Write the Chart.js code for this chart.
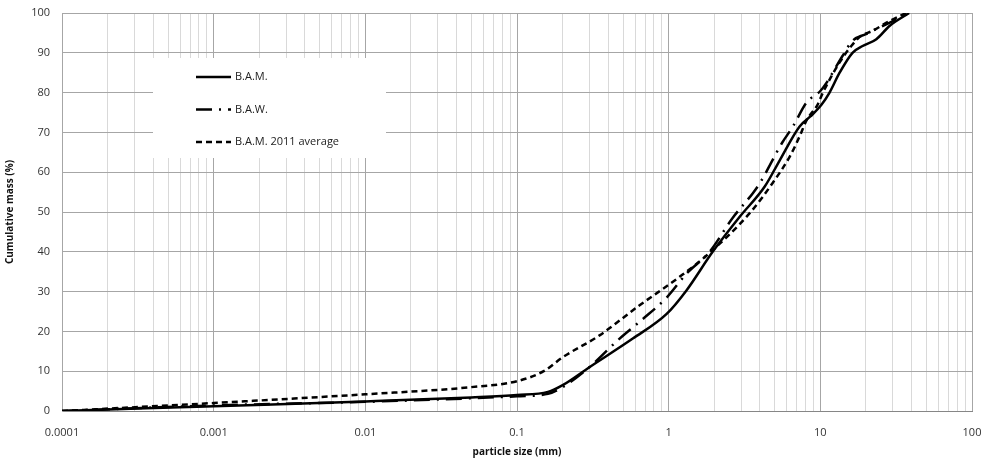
<!DOCTYPE html>
<html>
<head>
<meta charset="utf-8">
<script src="https://cdn.jsdelivr.net/npm/chart.js@4"></script>
<style>
  html, body { margin: 0; padding: 0; background: #fff; }
  #wrap { width: 981px; height: 466px; position: relative; }
</style>
</head>
<body>
<div id="wrap"><canvas id="psd"></canvas></div>
<script>
// grading curves
const SERIES_NAMES = ['B.A.M.', 'B.A.W.', 'B.A.M. 2011 average'];

const BAM_SIZE = [0.0001, 0.001, 0.01, 0.05, 0.1, 0.16, 0.2, 0.3, 0.58, 0.97, 1.31, 1.95, 2.94, 4.3, 5.4, 7.3, 8.6, 10.2, 11.5, 13.4, 16.3, 19, 23.4, 28.7, 38.5];
const BAM_PASS = [0, 1.2, 2.4, 3.4, 4.0, 4.8, 6.5, 11, 18.2, 24.4, 30.3, 40, 48.8, 56.4, 63, 71.5, 74, 77, 80, 85, 90, 91.7, 93.4, 96.8, 100];

const BAW_SIZE = [0.0001, 0.001, 0.01, 0.05, 0.1, 0.16, 0.2, 0.3, 0.475, 0.67, 0.97, 1.31, 1.86, 2.64, 3.6, 4, 5.6, 6.6, 8.1, 10, 11, 14, 16.3, 20, 28.7, 38.5];
const BAW_PASS = [0, 1.4, 2.3, 3.2, 3.7, 4.3, 6, 11, 18.2, 23, 28.5, 34.5, 40, 48.5, 54.8, 57.3, 67.4, 71.5, 77.5, 80.4, 82.5, 89.2, 93, 94.7, 97.6, 100];

const AVG_SIZE = [0.0001, 0.001, 0.01, 0.05, 0.1, 0.15, 0.2, 0.35, 0.64, 1.18, 1.77, 3.42, 4.85, 6.3, 7.3, 8.1, 9.6, 10.4, 13.4, 16, 18.2, 22, 28.7, 36.7];
const AVG_PASS = [0, 2, 4.2, 6, 7.5, 10, 13.5, 19, 26.5, 33.7, 39, 49.7, 57.3, 64, 69, 73, 77, 80, 87.6, 91.7, 94, 95.5, 98, 100];

const X_DECADES = [0.0001, 0.001, 0.01, 0.1, 1, 10, 100];
const X_LABELS  = ['0.0001', '0.001', '0.01', '0.1', '1', '10', '100'];
const Y_TICKS   = [0, 10, 20, 30, 40, 50, 60, 70, 80, 90, 100];

const DASHES = [[], [16, 7, 2, 7], [6, 4]];
const FONT = '"Open Sans", "Liberation Sans", sans-serif';

function pts(xs, ys) {
  return xs.map((x, i) => ({ x, y: ys[i] }));
}

// 1..9 x 10^k between the first and last decade
function logTicks() {
  const out = [];
  for (let d = 0; d < X_DECADES.length - 1; d++) {
    for (let m = 1; m < 10; m++) out.push({ value: X_DECADES[d] * m });
  }
  out.push({ value: X_DECADES[X_DECADES.length - 1] });
  return out;
}

function isDecade(v) {
  return X_DECADES.some(d => Math.abs(v / d - 1) < 1e-6);
}

// boxed legend sitting inside the plot, like the spreadsheet original
const boxLegend = {
  id: 'boxLegend',
  afterDatasetsDraw(chart) {
    const ctx = chart.ctx;
    const bx = 153, by = 58, bw = 233, bh = 100;
    ctx.save();
    ctx.fillStyle = '#fff';
    ctx.fillRect(bx, by, bw, bh);
    ctx.font = '11px ' + FONT;
    ctx.textBaseline = 'middle';
    ctx.fillStyle = '#222';
    chart.data.datasets.forEach((ds, i) => {
      const y = 77 + i * 32.5;
      ctx.beginPath();
      ctx.setLineDash(DASHES[i]);
      ctx.lineWidth = 2.5;
      ctx.strokeStyle = '#000';
      ctx.moveTo(196, y);
      ctx.lineTo(231, y);
      ctx.stroke();
      ctx.fillText(ds.label, 235, y);
    });
    ctx.restore();
  }
};

new Chart(document.getElementById('psd'), {
  type: 'line',
  plugins: [boxLegend],
  data: {
    datasets: [
      { label: SERIES_NAMES[0], data: pts(BAM_SIZE, BAM_PASS), borderDash: DASHES[0] },
      { label: SERIES_NAMES[1], data: pts(BAW_SIZE, BAW_PASS), borderDash: DASHES[1] },
      { label: SERIES_NAMES[2], data: pts(AVG_SIZE, AVG_PASS), borderDash: DASHES[2] },
    ].map(ds => ({
      ...ds,
      borderColor: '#000',
      borderWidth: 2.5,
      pointRadius: 0,
      fill: false,
      tension: 0.35,
      cubicInterpolationMode: 'monotone',
    })),
  },
  options: {
    responsive: true,
    maintainAspectRatio: false,
    animation: false,
    layout: { padding: { top: 13, right: 9, left: 0, bottom: 0 } },
    plugins: {
      legend: { display: false },
      tooltip: { enabled: false },
    },
    scales: {
      x: {
        type: 'logarithmic',
        min: X_DECADES[0],
        max: X_DECADES[X_DECADES.length - 1],
        afterBuildTicks: axis => { axis.ticks = logTicks(); },
        afterFit: axis => {
          axis.height = 55;
          axis.paddingLeft = 0;
          axis.paddingRight = 0;
        },
        ticks: {
          autoSkip: false,
          maxRotation: 0,
          padding: 15,
          color: '#333',
          font: { family: FONT, size: 11 },
          callback: v => {
            const i = X_DECADES.findIndex(d => Math.abs(v / d - 1) < 1e-6);
            return i >= 0 ? X_LABELS[i] : '';
          },
        },
        grid: {
          drawTicks: false,
          color: c => isDecade(c.tick.value) ? '#a6a6a6' : '#d9d9d9',
          lineWidth: 1,
        },
        border: { color: '#868686', width: 1 },
        title: {
          display: true,
          text: 'particle size (mm)',
          color: '#111',
          font: { family: FONT, size: 10, weight: 'bold' },
          padding: { top: 0, bottom: 8 },
        },
      },
      y: {
        min: 0,
        max: 100,
        afterBuildTicks: axis => { axis.ticks = Y_TICKS.map(value => ({ value })); },
        afterFit: axis => {
          axis.width = 62;
          axis.paddingTop = 0;
          axis.paddingBottom = 0;
        },
        ticks: {
          padding: 12,
          color: '#333',
          font: { family: FONT, size: 11 },
        },
        grid: { drawTicks: false, color: '#a6a6a6', lineWidth: 1 },
        border: { color: '#a6a6a6', width: 1 },
        title: {
          display: true,
          text: 'Cumulative mass (%)',
          color: '#111',
          font: { family: FONT, size: 10, weight: 'bold' },
          padding: { top: 4, bottom: 0 },
        },
      },
    },
  },
});
</script>
</body>
</html>
